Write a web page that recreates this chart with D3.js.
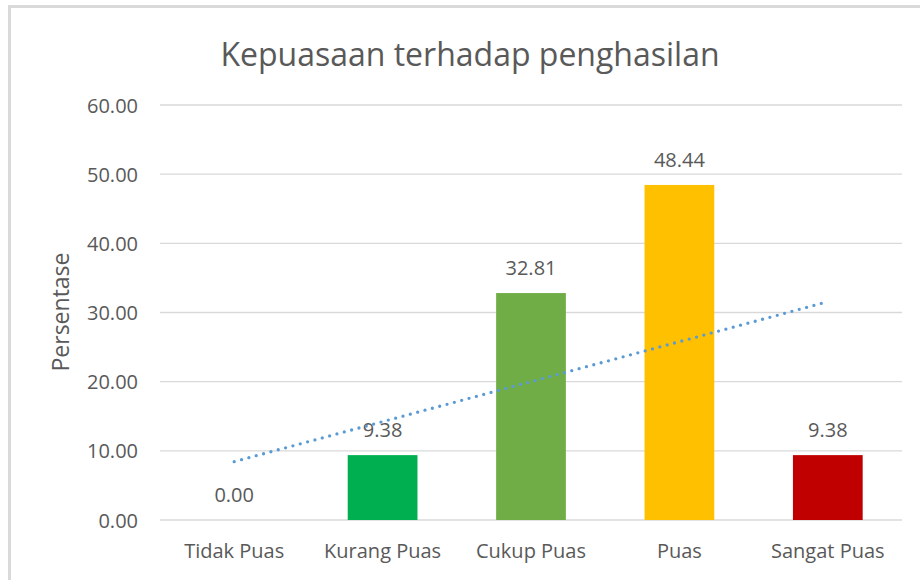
<!DOCTYPE html>
<html>
<head>
<meta charset="utf-8">
<script src="https://cdn.jsdelivr.net/npm/d3@7"></script>
<style>
  body { margin: 0; background: #fff; }
  svg text { font-family: "Open Sans", "DejaVu Sans", sans-serif; fill: #595959; }
</style>
</head>
<body>
<svg id="chart" width="920" height="580"></svg>
<script>
// Data
const categories = ["Tidak Puas", "Kurang Puas", "Cukup Puas", "Puas", "Sangat Puas"];
const values = [0.00, 9.38, 32.81, 48.44, 9.38];
const barColors = ["#5B9BD5", "#00B050", "#70AD47", "#FFC000", "#C00000"];
const yTicks = [0, 10, 20, 30, 40, 50, 60];

const svg = d3.select("#chart");
const margin = { top: 105, right: 18, bottom: 60, left: 160 };
const width = 920 - margin.left - margin.right;
const height = 580 - margin.top - margin.bottom;

// Bingkai luar
svg.append("rect")
    .attr("x", 9.5).attr("y", 6.5)
    .attr("width", 960).attr("height", 640)
    .attr("fill", "none")
    .attr("stroke", "#D9D9D9")
    .attr("stroke-width", 3);

// Judul
svg.append("text")
    .attr("x", 470).attr("y", 66)
    .attr("text-anchor", "middle")
    .style("font-size", "32px")
    .text("Kepuasaan terhadap penghasilan");

const g = svg.append("g").attr("transform", `translate(${margin.left},${margin.top})`);

const x = d3.scaleBand().domain(categories).range([0, width]).paddingInner(0.53).paddingOuter(0.265);
const y = d3.scaleLinear().domain([0, 60]).range([height, 0]);

// Garis grid
g.append("g")
    .selectAll("line")
    .data(yTicks)
    .join("line")
    .attr("x1", 0).attr("x2", width)
    .attr("y1", d => y(d)).attr("y2", d => y(d))
    .attr("stroke", "#D9D9D9")
    .attr("stroke-width", 1.3);

// Sumbu Y
const yAxis = g.append("g")
    .call(d3.axisLeft(y).tickValues(yTicks).tickFormat(d3.format(".2f")).tickSize(0).tickPadding(22));
yAxis.select(".domain").remove();
yAxis.selectAll("text").style("font-size", "20px").attr("fill", "#595959").attr("dy", "0.35em");

// Sumbu X
const xAxis = g.append("g")
    .attr("transform", `translate(0,${height})`)
    .call(d3.axisBottom(x).tickSize(0).tickPadding(24));
xAxis.select(".domain").remove();
xAxis.selectAll("text").style("font-size", "20px").attr("fill", "#595959");

// Batang
g.selectAll(".bar")
    .data(values)
    .join("rect")
    .attr("class", "bar")
    .attr("x", (d, i) => x(categories[i]))
    .attr("y", d => y(d))
    .attr("width", x.bandwidth())
    .attr("height", d => height - y(d))
    .attr("fill", (d, i) => barColors[i]);

// Label nilai
g.selectAll(".label")
    .data(values)
    .join("text")
    .attr("class", "label")
    .attr("x", (d, i) => x(categories[i]) + x.bandwidth() / 2)
    .attr("y", d => y(d) - 18)
    .attr("text-anchor", "middle")
    .style("font-size", "20px")
    .text(d => d3.format(".2f")(d));

// Garis tren linear (regresi kuadrat terkecil)
const n = values.length;
const xs = d3.range(1, n + 1);
const mx = d3.mean(xs), my = d3.mean(values);
const slope = d3.sum(xs, (xi, i) => (xi - mx) * (values[i] - my)) / d3.sum(xs, xi => (xi - mx) ** 2);
const intercept = my - slope * mx;
const trend = [1, n].map(xi => ({ cat: categories[xi - 1], v: intercept + slope * xi }));

g.append("path")
    .datum(trend)
    .attr("d", d3.line().x(d => x(d.cat) + x.bandwidth() / 2).y(d => y(d.v)))
    .attr("fill", "none")
    .attr("stroke", "#5B9BD5")
    .attr("stroke-width", 3.3)
    .attr("stroke-linecap", "round")
    .attr("stroke-dasharray", "0 7.6");

// Judul sumbu Y
svg.append("text")
    .attr("transform", "translate(69,312) rotate(-90)")
    .attr("text-anchor", "middle")
    .style("font-size", "23px")
    .text("Persentase");
</script>
</body>
</html>
